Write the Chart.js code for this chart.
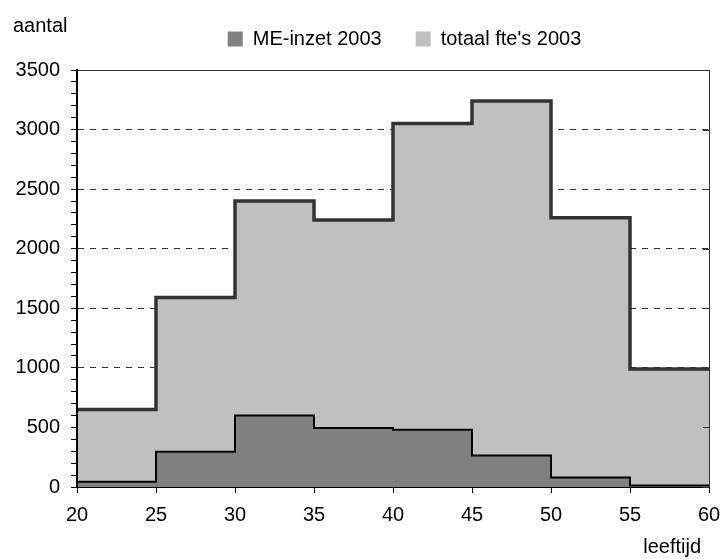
<!DOCTYPE html>
<html>
<head>
<meta charset="utf-8">
<script src="https://cdn.jsdelivr.net/npm/chart.js@4.4.1/dist/chart.umd.min.js"></script>
<style>
  html, body { margin: 0; padding: 0; background: #fff; }
  #wrap { width: 721px; height: 559px; }
</style>
</head>
<body>
<div id="wrap"><canvas id="canvas" width="721" height="559"></canvas></div>
<script>
"use strict"
// leeftijdsklassen (begin van elke klasse), laatste rand apart
let leeftijden = [20, 25, 30, 35, 40, 45, 50, 55];
let laatsteRand = 60;
let meInzet = [45, 295, 600, 495, 480, 265, 80, 12];
let totaalFte = [650, 1590, 2400, 2240, 3050, 3240, 2260, 990];
let xTicks = [20, 25, 30, 35, 40, 45, 50, 55, 60];
let yTicks = [0, 500, 1000, 1500, 2000, 2500, 3000, 3500];

function trap(waarden) {
    let pts = leeftijden.map((l, i) => ({x: l, y: waarden[i]}));
    pts.push({x: laatsteRand, y: waarden[waarden.length - 1]});
    return pts;
}

const fontFam = "'Liberation Sans', Arial, sans-serif";
Chart.defaults.font.family = fontFam;
Chart.defaults.font.size = 20;
Chart.defaults.color = "#000";

// rand boven en rechts, plus de teksten "aantal" en "leeftijd"
const extras = {
    id: "extras",
    afterLayout(chart) {
        let lg = chart.legend;
        lg.left += 50; lg.right += 50;
        lg.top -= 11; lg.bottom -= 11;
    },
    afterDraw(chart) {
        let ctx = chart.ctx, a = chart.chartArea, y = chart.scales.y;
        ctx.save();
        ctx.strokeStyle = "#333";
        ctx.lineWidth = 1;
        ctx.beginPath();
        ctx.moveTo(a.left, a.top + 0.5);
        ctx.lineTo(a.right, a.top + 0.5);
        ctx.moveTo(a.right + 0.5, a.top);
        ctx.lineTo(a.right + 0.5, a.bottom);
        yTicks.forEach(v => {
            let py = Math.round(y.getPixelForValue(v)) + 0.5;
            ctx.moveTo(a.right - 6, py);
            ctx.lineTo(a.right, py);
        });
        ctx.stroke();
        ctx.fillStyle = "#000";
        ctx.font = "20px " + fontFam;
        ctx.textBaseline = "alphabetic";
        ctx.textAlign = "left";
        ctx.fillText("aantal", 13, 32);
        ctx.textAlign = "right";
        ctx.fillText("leeftijd", 701, 553);
        ctx.restore();
    }
};

let chartOptions = {
    type: "line",
    data: {
        datasets: [{
            label: "ME-inzet 2003",
            data: trap(meInzet),
            stepped: true,
            fill: "origin",
            backgroundColor: "#808080",
            borderColor: "#000",
            borderWidth: 2,
            borderJoinStyle: "miter",
            pointRadius: 0
        }, {
            label: "totaal fte's 2003",
            data: trap(totaalFte),
            stepped: true,
            fill: "origin",
            backgroundColor: "#C0C0C0",
            borderColor: "#333",
            borderWidth: 3.5,
            borderJoinStyle: "miter",
            pointRadius: 0
        }]
    },
    options: {
        responsive: false,
        animation: false,
        layout: {padding: {top: 6, right: 12, left: 0, bottom: 0}},
        plugins: {
            tooltip: {enabled: false},
            legend: {
                position: "top",
                labels: {
                    boxWidth: 15,
                    boxHeight: 15,
                    padding: 34,
                    font: {size: 20},
                    generateLabels(chart) {
                        let items = Chart.defaults.plugins.legend.labels.generateLabels(chart);
                        items.forEach(it => { it.lineWidth = 0; it.strokeStyle = it.fillStyle; });
                        return items;
                    }
                }
            }
        },
        scales: {
            x: {
                type: "linear",
                min: 20,
                max: 60,
                afterBuildTicks(scale) { scale.ticks = xTicks.map(v => ({value: v})); },
                afterFit(scale) {
                    scale.height = 72;
                    scale.paddingLeft = 0;
                    scale.paddingRight = 0;
                },
                ticks: {padding: 10, autoSkip: false, maxRotation: 0},
                grid: {drawOnChartArea: false, tickLength: 6, tickColor: "#000"},
                border: {color: "#000", width: 1, z: 1}
            },
            y: {
                min: 0,
                max: 3500,
                ticks: {
                    stepSize: 100,
                    autoSkip: false,
                    padding: 11,
                    callback: v => (yTicks.includes(v) ? String(v) : "")
                },
                afterFit(scale) { scale.width = 77; },
                grid: {
                    color: ctx => {
                        let v = ctx.tick ? ctx.tick.value : -1;
                        return (v > 0 && v < 3500 && v % 500 === 0) ? "#333" : "rgba(0,0,0,0)";
                    },
                    tickColor: "#000",
                    tickLength: 6,
                    tickBorderDash: []
                },
                border: {color: "#000", width: 2, dash: [6, 6], z: 1}
            }
        }
    },
    plugins: [extras]
};

let chart = new Chart(document.getElementById("canvas"), chartOptions);
</script>
</body>
</html>
